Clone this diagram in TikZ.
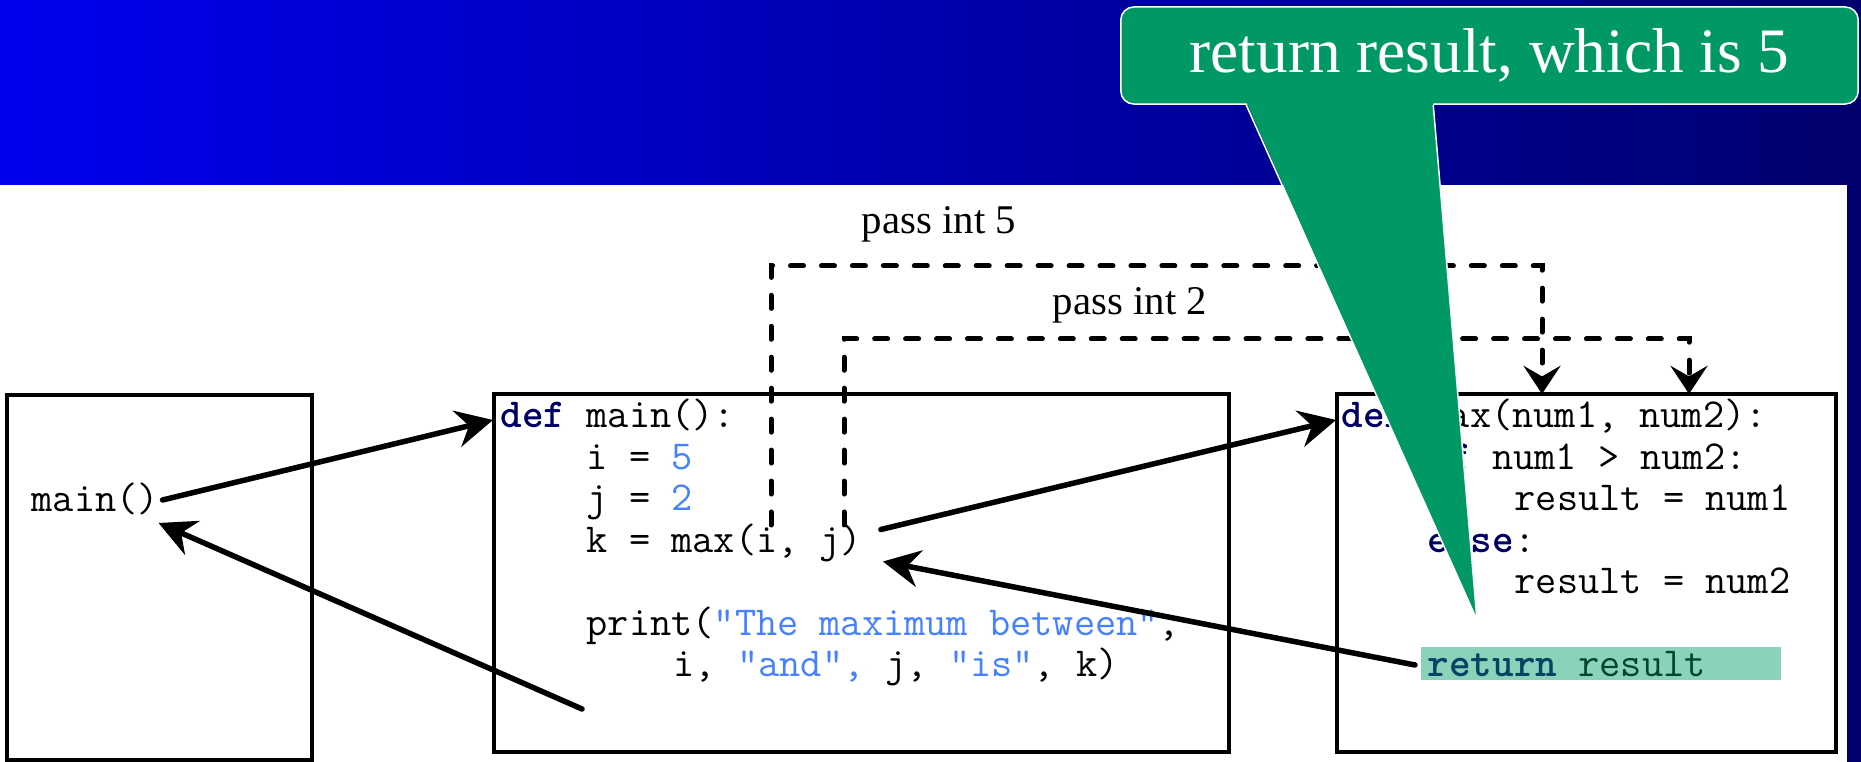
\documentclass[tikz,border=0pt]{standalone}
\usepackage{fontspec}
\setmainfont{Liberation Serif}
\usetikzlibrary{arrows.meta,calc}

\definecolor{slideblue}{RGB}{0,0,238}
\definecolor{slidenavy}{RGB}{0,0,110}
\definecolor{keyword}{RGB}{0,0,100}
\definecolor{literal}{RGB}{70,130,255}
\definecolor{notegreen}{RGB}{0,153,102}

\newcommand{\kw}[1]{\textcolor{keyword}{\textbf{#1}}}
\newcommand{\lit}[1]{\textcolor{literal}{#1}}

\begin{document}
\begin{tikzpicture}[
    x=0.01cm, y=-0.01cm,
    stackbox/.style={rectangle, draw=black, line width=0.04cm, inner sep=0pt},
    codeline/.style={anchor=base west, inner sep=0.03cm, font=\ttfamily\fontsize{11.7}{14}\selectfont},
    passlabel/.style={anchor=base, inner sep=0pt, font=\fontsize{11.6}{14}\selectfont},
    call/.style={line width=0.055cm, line cap=round, -{Stealth[length=10.5pt, width=10.5pt, inset=3.5pt]}},
    pass/.style={line width=0.05cm, line cap=round, dash pattern=on 3.7pt off 5.1pt, -{Stealth[length=8pt, width=10.5pt, inset=3pt]}},
    note/.style={rectangle, rounded corners=0.13cm, fill=notegreen, draw=white, line width=0.015cm, minimum width=7.37cm, minimum height=0.97cm, inner sep=0pt, text=white, font=\fontsize{18}{22}\selectfont}
]
\useasboundingbox (0,0) rectangle (1861,762);

% slide background
\shade[left color=slideblue, right color=slidenavy] (0,0) rectangle (1861,762);
\fill[white] (0,185) rectangle (1847,762);

% call stack frames
\node[stackbox, minimum width=3.05cm, minimum height=3.65cm] (callerbox) at (159.5,577.5) {};
\node[stackbox, minimum width=7.35cm, minimum height=3.58cm] (mainbox) at (861.5,573) {};
\node[stackbox, minimum width=4.99cm, minimum height=3.58cm] (maxbox) at (1586.5,573) {};

% caller
\node[codeline] (callmain) at (28,512) {main()};

% main()
\node[codeline] (m1) at (497,428) {\kw{def} main():};
\node[codeline] (m2) at (583,469.5) {i = \lit{5}};
\node[codeline] (m3) at (583,511) {j = \lit{2}};
\node[codeline] (m4) at (583,552.5) {k = max(i, j)};
\node[codeline] (m6) at (583,635.5) {print(\lit{"The maximum between"},};
\node[codeline] (m7) at (670,677) {i, \lit{"and",} j, \lit{"is"}, k)};

% max()
\node[codeline] (x1) at (1338,428) {\kw{def} max(num1, num2):};
\node[codeline] (x2) at (1424,469.5) {\kw{if} num1 > num2:};
\node[codeline] (x3) at (1511,511) {result = num1};
\node[codeline] (x4) at (1424,552.5) {\kw{else}:};
\node[codeline] (x5) at (1511,594) {result = num2};
\node[codeline] (x7) at (1424,677) {\kw{return} result};
\fill[notegreen, fill opacity=0.45] (1421,647) rectangle (1781,680);

% calls and returns
\coordinate (back) at (582,709);
\draw[call] ($(callmain.base east)+(0,-12)$) -- ($(m1.base west)+(-4,-8)$);
\draw[call] (back) -- ($(callmain.base east)+(-4,11)$);
\draw[call] ($(m4.base east)+(15,-23)$) -- ($(x1.base west)+(-2,-8)$);
\draw[call] ($(x7.base west)+(-9,-12)$) -- ($(m4.base east)+(17,9)$);

% arguments
\coordinate (argi) at (771,525);
\coordinate (argj) at (844,525);
\coordinate (num1) at (1542,394);
\coordinate (num2) at (1689,394);
\draw[pass] (argi) -- ++(0,-259) -| (num1);
\draw[pass] (argj) -- ++(0,-186) -| (num2);
\node[passlabel] (five) at (939,234) {pass int 5};
\node[passlabel] (two) at (1130,315) {pass int 2};

% callout
\node[note] (ret) at (1489.5,55.5) {return result, which is 5};
\coordinate (tip) at (1477,620);
\fill[notegreen] ([xshift=1.26cm, yshift=0.03cm]ret.south west) -- (tip) -- ([xshift=3.13cm, yshift=0.03cm]ret.south west) -- cycle;
\draw[white, line width=0.015cm] ([xshift=1.26cm]ret.south west) -- (tip) -- ([xshift=3.13cm]ret.south west);

\end{tikzpicture}
\end{document}
